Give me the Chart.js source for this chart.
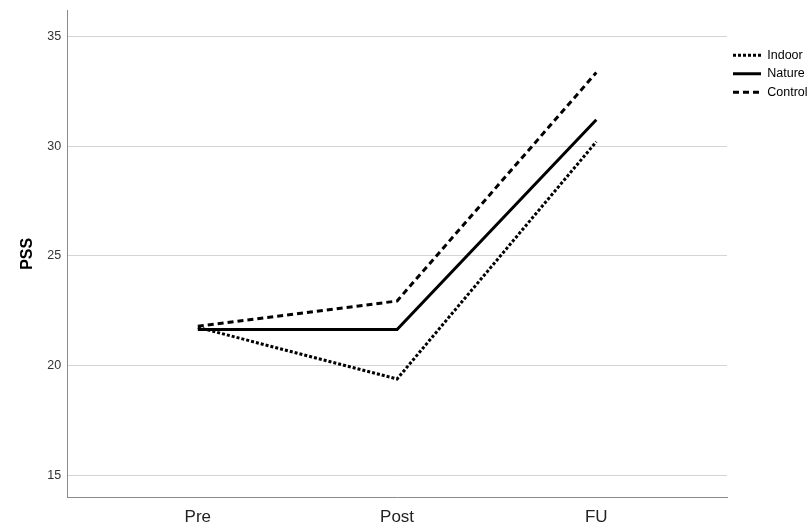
<!DOCTYPE html>
<html>
<head>
<meta charset="utf-8">
<script src="https://cdn.jsdelivr.net/npm/chart.js@4"></script>
<style>
html,body{margin:0;padding:0;background:#fff;}
#wrap{width:809px;height:530px;position:relative;}
</style>
</head>
<body>
<div id="wrap"><canvas id="c" width="809" height="530"></canvas></div>
<script>
const categories = ["Pre", "Post", "FU"];
const indoor = [21.75, 19.4, 30.2];
const nature = [21.65, 21.65, 31.2];
const control = [21.8, 22.95, 33.35];
const yTicks = [15, 20, 25, 30, 35];
const seriesNames = ["Indoor", "Nature", "Control"];
const dashes = [[3, 2], [], [6, 4]];

const toPts = arr => arr.map((v, i) => ({x: i, y: v}));
const FONT = "'Liberation Sans', Arial, sans-serif";

new Chart(document.getElementById('c'), {
  type: 'line',
  data: {
    datasets: [indoor, nature, control].map((arr, i) => ({
      label: seriesNames[i], data: toPts(arr), borderColor: '#000', backgroundColor: '#000',
      borderWidth: 3, borderDash: dashes[i], pointRadius: 0, tension: 0
    }))
  },
  options: {
    responsive: false,
    animation: false,
    layout: {padding: {left: 18, top: 10, bottom: -8, right: 0}},
    plugins: {
      tooltip: {enabled: false},
      legend: {
        position: 'right',
        align: 'start',
        maxWidth: 82,
        title: {display: true, text: '', font: {size: 10}, padding: {top: 0, bottom: 21}},
        labels: {
          usePointStyle: true,
          pointStyle: 'line',
          pointStyleWidth: 28,
          boxWidth: 28,
          padding: 6,
          color: '#000',
          font: {family: FONT, size: 12.5},
          generateLabels: chart => chart.data.datasets.map((ds, i) => ({
            text: ds.label,
            fillStyle: '#000',
            strokeStyle: '#000',
            lineWidth: 3,
            lineDash: ds.borderDash,
            lineCap: 'butt',
            pointStyle: 'line',
            fontColor: '#000',
            hidden: false,
            datasetIndex: i
          }))
        }
      }
    },
    scales: {
      x: {
        type: 'linear',
        min: -0.656,
        max: 2.656,
        afterBuildTicks: s => { s.ticks = categories.map((c, i) => ({value: i})); },
        ticks: {
          callback: v => categories[v],
          color: '#222',
          padding: 10,
          font: {family: FONT, size: 17},
          maxRotation: 0
        },
        grid: {display: false, drawTicks: false},
        border: {display: true, color: '#8a8a8a', width: 1}
      },
      y: {
        min: 14,
        max: 36.2,
        afterBuildTicks: s => { s.ticks = yTicks.map(v => ({value: v})); },
        afterFit: s => { s.paddingTop = 0; },
        ticks: {
          color: '#333',
          padding: 6,
          font: {family: FONT, size: 12.5}
        },
        grid: {color: '#d4d4d4', lineWidth: 1, drawTicks: false},
        border: {display: true, color: '#8a8a8a', width: 1},
        title: {
          display: true,
          text: 'PSS',
          color: '#000',
          font: {family: FONT, size: 16, weight: 'bold'},
          padding: {top: 0, bottom: 4}
        }
      }
    }
  }
});
</script>
</body>
</html>
